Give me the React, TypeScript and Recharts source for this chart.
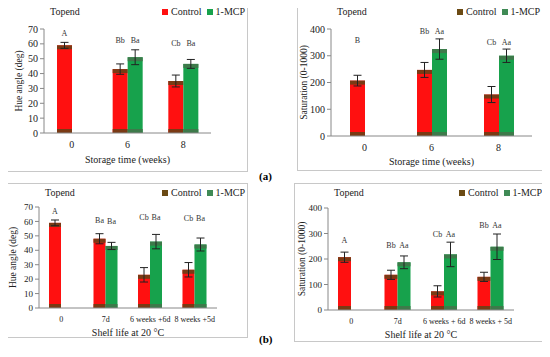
import React from 'react';
import { BarChart, Bar, XAxis, YAxis, ErrorBar, LabelList, Legend, Label } from 'recharts';

// (a) storage
const storageCats = ['0', '6', '8'];
const hueStorageControl = [59, 43, 35];
const hueStorageControlErr = [2, 3.5, 4];
const hueStorageMcp = [0, 51, 46.5];
const hueStorageMcpErr = [null, 5, 3];
const hueStorageControlLetters = ['A', 'Bb', 'Cb'];
const hueStorageControlLetterY = [65, 60.5, 58.5];
const hueStorageMcpLetters = [null, 'Ba', 'Ba'];
const hueStorageMcpLetterY = [null, 60.5, 58.5];

const satStorageControl = [207, 247, 155];
const satStorageControlErr = [20, 28, 30];
const satStorageMcp = [0, 325, 300];
const satStorageMcpErr = [null, 38, 25];
const satStorageControlLetters = ['B', 'Bb', 'Cb'];
const satStorageControlLetterY = [347, 380, 340];
const satStorageMcpLetters = [null, 'Aa', 'Aa'];
const satStorageMcpLetterY = [null, 380, 340];

// (b) shelf life
const hueShelfCats = ['0', '7d', '6 weeks +6d', '8 weeks +5d'];
const hueShelfControl = [59, 48, 23, 26.5];
const hueShelfControlErr = [2, 3.5, 5, 5];
const hueShelfMcp = [0, 43, 46, 44];
const hueShelfMcpErr = [null, 2.5, 5, 4.5];
const hueShelfControlLetters = ['A', 'Ba', 'Cb', 'Cb'];
const hueShelfControlLetterY = [65, 59, 61, 60];
const hueShelfMcpLetters = [null, 'Ba', 'Ba', 'Ba'];
const hueShelfMcpLetterY = [null, 58, 61, 60];

const satShelfCats = ['0', '7d', '6 weeks + 6d', '8 weeks + 5d'];
const satShelfControl = [207, 138, 73, 130];
const satShelfControlErr = [20, 18, 22, 18];
const satShelfMcp = [0, 187, 218, 248];
const satShelfMcpErr = [null, 25, 48, 50];
const satShelfControlLetters = ['A', 'Bb', 'Cb', 'Bb'];
const satShelfControlLetterY = [261, 243, 285, 320];
const satShelfMcpLetters = [null, 'Aa', 'Aa', 'Aa'];
const satShelfMcpLetterY = [null, 243, 285, 320];

const hueTicks = [0, 10, 20, 30, 40, 50, 60, 70];
const satTicks = [0, 100, 200, 300, 400];

const FONT = '"Liberation Serif", "DejaVu Serif", serif';

function buildRows(cats, c, ce, m, me, cl, cly, ml, mly) {
  return cats.map((name, i) => ({
    name,
    control: c[i],
    controlErr: ce[i],
    mcp: m[i],
    mcpErr: me[i],
    cLetter: cl[i],
    cLetterY: cly[i],
    mLetter: ml[i],
    mLetterY: mly[i],
  }));
}

function bandShape(body, dark) {
  return (props) => {
    const { x, y, width, height } = props;
    if (!height || height <= 0) return null;
    const band = Math.min(4, height / 3);
    return (
      <g>
        <rect x={x} y={y} width={width} height={height} fill={body} />
        <rect x={x} y={y} width={width} height={band} fill={dark} />
        <rect x={x} y={y + height - band} width={width} height={band} fill={dark} />
      </g>
    );
  };
}

function letterContent(rows, valueKey, posKey) {
  return (props) => {
    const { x, y, width, height, value, index } = props;
    const row = rows[index];
    if (!value || !row || !row[valueKey] || !height) return null;
    const bottom = y + height;
    const py = bottom - (row[posKey] * height) / row[valueKey];
    return (
      <text x={x + width / 2} y={py} textAnchor="middle" fontSize={8} fontFamily={FONT} fill="#333">
        {value}
      </text>
    );
  };
}

function LegendBox({ colors }) {
  const item = (c, t) => (
    <span style={{ display: 'inline-flex', alignItems: 'center', marginLeft: 5 }}>
      <span style={{ width: 6, height: 6, background: c, marginRight: 3 }} />
      <span style={{ color: '#222', fontFamily: FONT, fontSize: 10 }}>{t}</span>
    </span>
  );
  return (
    <div style={{ display: 'flex' }}>
      {item(colors[0], 'Control')}
      {item(colors[1], '1-MCP')}
    </div>
  );
}

function Panel({ frame, plot, rows, ticks, domain, yTitle, xTitle, barSize, legendColors, tickFont, yTickFont, xTitleOffset, yTitleOffset }) {
  const [fl, ft, fr, fb] = frame;
  const [pl, pt, pr, pb] = plot;
  const w = fr - fl;
  const h = fb - ft;
  return (
    <div style={{ position: 'absolute', left: fl, top: ft, width: w, height: h, border: '1px solid #c8c8c8', boxSizing: 'border-box' }}>
      <div style={{ position: 'absolute', left: pl - fl + 6, top: 3, fontFamily: FONT, fontSize: 10, color: '#222' }}>Topend</div>
      <BarChart
        width={w - 2}
        height={h - 2}
        data={rows}
        barGap={0}
        barSize={barSize}
        margin={{ top: pt - ft, right: fr - pr, left: 0, bottom: 0 }}
      >
        <XAxis
          dataKey="name"
          height={fb - pb}
          tick={{ fontSize: tickFont, fontFamily: FONT, fill: '#222' }}
          tickLine={false}
          axisLine={{ stroke: '#888' }}
          interval={0}
        >
          <Label value={xTitle} position="insideBottom" offset={xTitleOffset} style={{ fontSize: 10, fontFamily: FONT, fill: '#222' }} />
        </XAxis>
        <YAxis
          width={pl - fl}
          domain={domain}
          ticks={ticks}
          interval={0}
          tick={{ fontSize: yTickFont, fontFamily: FONT, fill: '#222' }}
          tickSize={4}
          tickLine={{ stroke: '#888' }}
          axisLine={{ stroke: '#888' }}
        >
          <Label value={yTitle} angle={-90} position="insideLeft" offset={yTitleOffset} style={{ fontSize: 9.5, fontFamily: FONT, fill: '#222', textAnchor: 'middle' }} />
        </YAxis>
        <Legend
          verticalAlign="top"
          align="right"
          content={() => <LegendBox colors={legendColors} />}
          wrapperStyle={{ top: 3, right: 2, width: 'auto', left: 'auto' }}
        />
        <Bar dataKey="control" name="Control" shape={bandShape('#ff1010', '#7a3a14')} isAnimationActive={false}>
          <ErrorBar dataKey="controlErr" width={4} stroke="#222" strokeWidth={1} />
          <LabelList dataKey="cLetter" content={letterContent(rows, 'control', 'cLetterY')} />
        </Bar>
        <Bar dataKey="mcp" name="1-MCP" shape={bandShape('#17a24c', '#3d7a4a')} isAnimationActive={false}>
          <ErrorBar dataKey="mcpErr" width={4} stroke="#222" strokeWidth={1} />
          <LabelList dataKey="mLetter" content={letterContent(rows, 'mcp', 'mLetterY')} />
        </Bar>
      </BarChart>
    </div>
  );
}

export default function App() {
  const rowsA1 = buildRows(storageCats, hueStorageControl, hueStorageControlErr, hueStorageMcp, hueStorageMcpErr,
    hueStorageControlLetters, hueStorageControlLetterY, hueStorageMcpLetters, hueStorageMcpLetterY);
  const rowsA2 = buildRows(storageCats, satStorageControl, satStorageControlErr, satStorageMcp, satStorageMcpErr,
    satStorageControlLetters, satStorageControlLetterY, satStorageMcpLetters, satStorageMcpLetterY);
  const rowsB1 = buildRows(hueShelfCats, hueShelfControl, hueShelfControlErr, hueShelfMcp, hueShelfMcpErr,
    hueShelfControlLetters, hueShelfControlLetterY, hueShelfMcpLetters, hueShelfMcpLetterY);
  const rowsB2 = buildRows(satShelfCats, satShelfControl, satShelfControlErr, satShelfMcp, satShelfMcpErr,
    satShelfControlLetters, satShelfControlLetterY, satShelfMcpLetters, satShelfMcpLetterY);

  return (
    <div style={{ position: 'relative', width: 550, height: 357, margin: -8, background: '#fff', overflow: 'hidden' }}>
      <Panel frame={[6, 2, 248, 172]} plot={[43, 17, 212, 134]} rows={rowsA1} ticks={hueTicks} domain={[0, 70]}
        yTitle="Hue angle (deg)" xTitle="Storage time (weeks)" barSize={15} legendColors={['#ff1010', '#17a24c']}
        tickFont={10} yTickFont={10} xTitleOffset={8} yTitleOffset={12} />
      <Panel frame={[297, 2, 543, 171]} plot={[330, 17, 533, 137]} rows={rowsA2} ticks={satTicks} domain={[0, 400]}
        yTitle="Saturation (0-1000)" xTitle="Storage time (weeks)" barSize={15} legendColors={['#6b4a14', '#3f8a55']}
        tickFont={10} yTickFont={10} xTitleOffset={5} yTitleOffset={6} />
      <Panel frame={[4, 183, 248, 338]} plot={[38, 195, 218, 309]} rows={rowsB1} ticks={hueTicks} domain={[0, 70]}
        yTitle="Hue angle (deg)" xTitle="Shelf life at 20 °C" barSize={12} legendColors={['#6b4a14', '#3f8a55']}
        tickFont={8} yTickFont={9} xTitleOffset={1} yTitleOffset={8} />
      <Panel frame={[294, 183, 545, 342]} plot={[327, 196, 515, 311]} rows={rowsB2} ticks={satTicks} domain={[0, 400]}
        yTitle="Saturation (0-1000)" xTitle="Shelf life at 20 °C" barSize={13} legendColors={['#6b4a14', '#3f8a55']}
        tickFont={8} yTickFont={9} xTitleOffset={3} yTitleOffset={7} />
      <div style={{ position: 'absolute', left: 259, top: 170, fontFamily: FONT, fontSize: 11, fontWeight: 'bold' }}>(a)</div>
      <div style={{ position: 'absolute', left: 259, top: 333, fontFamily: FONT, fontSize: 11, fontWeight: 'bold' }}>(b)</div>
    </div>
  );
}
